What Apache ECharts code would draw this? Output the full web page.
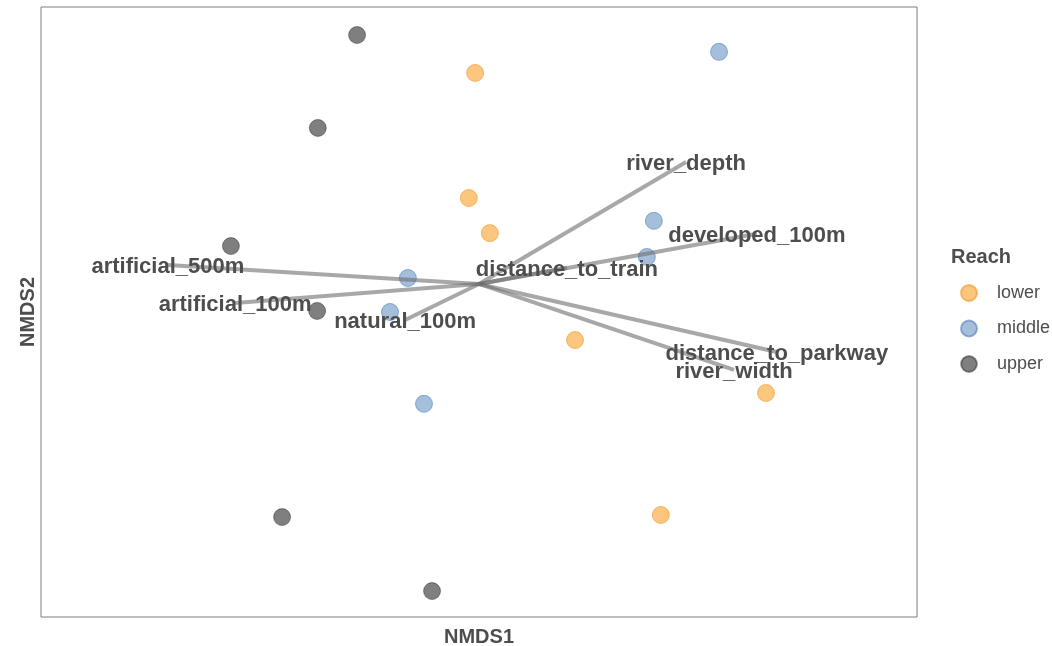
<!DOCTYPE html>
<html>
<head>
<meta charset="utf-8">
<script src="https://cdn.jsdelivr.net/npm/echarts@6/dist/echarts.min.js"></script>
<style>
  html, body { margin: 0; padding: 0; background: #fff; }
  #chart { width: 1052px; height: 646px; }
</style>
</head>
<body>
<div id="chart"></div>
<script>
// NMDS site scores by reach (NMDS1, NMDS2)
const lowerSites = [
  [-0.011, 0.602], [-0.029, 0.245], [0.031, 0.145],
  [0.274, -0.160], [0.819, -0.311], [0.519, -0.659]
];
const middleSites = [
  [0.685, 0.662], [0.499, 0.180], [0.479, 0.077],
  [-0.203, 0.017], [-0.254, -0.080], [-0.157, -0.342]
];
const upperSites = [
  [-0.348, 0.710], [-0.460, 0.445], [-0.708, 0.108],
  [-0.462, -0.077], [-0.562, -0.665], [-0.134, -0.876]
];

// Environmental fit vectors (arrow tips; all start at the origin)
const vectorNames = [
  'artificial_500m', 'artificial_100m', 'natural_100m', 'river_depth',
  'developed_100m', 'distance_to_train', 'distance_to_parkway', 'river_width'
];
const vectorX = [-0.888, -0.696, -0.211, 0.591, 0.793, 0.251, 0.850, 0.728];
const vectorY = [0.054, -0.054, -0.103, 0.348, 0.143, 0.046, -0.194, -0.245];

const reachNames = ['lower', 'middle', 'upper'];

const FONT = "'Liberation Sans', Helvetica, Arial, sans-serif";
const TEXT = '#4d4d4d';

const reachStyles = {
  lower:  { color: 'rgba(251,141,0,0.5)',  borderColor: 'rgba(240,150,40,0.6)' },
  middle: { color: 'rgba(75,125,185,0.5)', borderColor: 'rgba(70,120,185,0.55)' },
  upper:  { color: 'rgba(0,0,0,0.5)',      borderColor: 'rgba(0,0,0,0.35)' }
};

const chart = echarts.init(document.getElementById('chart'), null, { renderer: 'canvas' });

const siteSeries = [lowerSites, middleSites, upperSites].map((pts, i) => ({
  name: reachNames[i],
  type: 'scatter',
  data: pts,
  symbol: 'circle',
  symbolSize: 17,
  z: 2,
  itemStyle: Object.assign({ borderWidth: 1, opacity: 1 }, reachStyles[reachNames[i]]),
  emphasis: { disabled: true }
}));

const vectorSeries = vectorNames.map((name, i) => ({
  type: 'line',
  data: [[0, 0], [vectorX[i], vectorY[i]]],
  showSymbol: false,
  symbol: 'none',
  silent: true,
  z: 3,
  lineStyle: { color: 'rgba(110,110,110,0.6)', width: 4, cap: 'butt' }
}));

// Vector names, centred on each vector tip
const vectorLabels = {
  type: 'custom',
  silent: true,
  z: 5,
  data: vectorNames.map((n, i) => [vectorX[i], vectorY[i], i]),
  renderItem: (params, api) => {
    const pt = api.coord([api.value(0), api.value(1)]);
    return {
      type: 'text',
      x: pt[0], y: pt[1] + 2,
      style: {
        text: vectorNames[api.value(2)],
        fill: TEXT,
        font: 'bold 22px ' + FONT,
        align: 'center',
        verticalAlign: 'middle'
      }
    };
  }
};

chart.setOption({
  animation: false,
  backgroundColor: '#ffffff',
  grid: {
    left: 41, top: 7, width: 876, height: 610,
    outerBoundsMode: 'none', containLabel: false,
    show: true, borderColor: '#7f7f7f', borderWidth: 1, backgroundColor: 'transparent'
  },
  xAxis: {
    type: 'value', min: -1.25, max: 1.25,
    name: 'NMDS1', nameLocation: 'middle', nameGap: 10,
    nameTextStyle: { color: TEXT, fontFamily: FONT, fontWeight: 'bold', fontSize: 20, verticalAlign: 'top' },
    axisLine: { show: false }, axisTick: { show: false },
    axisLabel: { show: false }, splitLine: { show: false }
  },
  yAxis: {
    type: 'value', min: -0.95, max: 0.79,
    name: 'NMDS2', nameLocation: 'middle', nameGap: 3,
    nameTextStyle: { color: TEXT, fontFamily: FONT, fontWeight: 'bold', fontSize: 20, verticalAlign: 'bottom' },
    axisLine: { show: false }, axisTick: { show: false },
    axisLabel: { show: false }, splitLine: { show: false }
  },
  legend: {
    data: reachNames,
    orient: 'vertical',
    left: 955, top: 278,
    itemWidth: 16, itemHeight: 16, itemGap: 15.5,
    icon: 'circle',
    textStyle: { color: TEXT, fontFamily: FONT, fontSize: 18, lineHeight: 20, padding: [0, 0, 0, 15] },
    selectedMode: false
  },
  graphic: [{
    type: 'text', left: 951, top: 247,
    style: { text: 'Reach', fill: TEXT, font: 'bold 20px ' + FONT }
  }],
  series: [...siteSeries, ...vectorSeries, vectorLabels]
});
</script>
</body>
</html>
